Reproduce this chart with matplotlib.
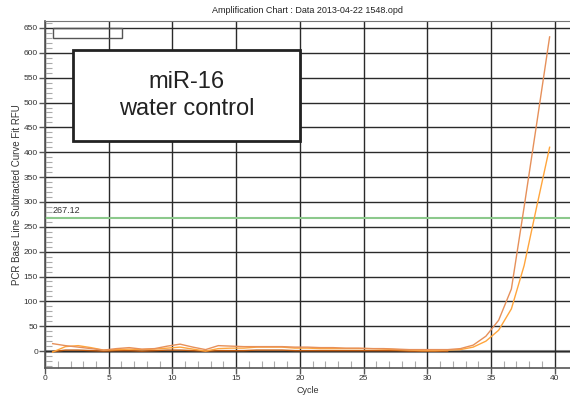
import matplotlib
matplotlib.use("Agg")
import matplotlib.pyplot as plt
from matplotlib.patches import Rectangle
import numpy as np

plt.rcParams['font.family'] = ['Liberation Sans', 'DejaVu Sans']

# cycle positions as drawn by the instrument software
cycles = np.arange(1, 41) - 0.4

# two amplified wells + one flat well (RFU)
well_a = [15, 11, 8, 5, 2, 5, 7, 4, 5, 10,
          14, 8, 3, 11, 10, 9, 9, 9, 9, 8,
          8, 7, 7, 6, 6, 5, 5, 4, 3, 3,
          3, 3, 5, 12, 30, 62, 125, 290, 460, 632]
well_b = [-2, 9, 11, 7, 2, 3, 4, 3, 4, 6,
          8, 4, 0, 5, 6, 6, 8, 8, 8, 6,
          6, 5, 5, 5, 5, 5, 4, 3, 2, 1,
          1, 2, 3, 8, 20, 42, 85, 172, 292, 410]
well_c = [-1, 2, 2, 1, 0, 1, 1, 0, 1, 2,
          2, 1, 0, 1, 1, 1, 2, 2, 2, 1,
          1, 1, 1, 1, 1, 1, 1, 1, 0, 0,
          0, 0]

threshold = 267.12

fig = plt.figure(figsize=(5.7, 4.0), dpi=100)
ax = fig.add_axes([0.079, 0.08, 0.921, 0.8675])

ax.set_xlim(0, 41.2)
ax.set_ylim(-34, 664)

# grid
ax.set_xticks(np.arange(0, 41, 5))
ax.set_yticks(np.arange(0, 651, 50))
ax.set_xticks(np.arange(0, 41, 1), minor=True)
ax.set_yticks(np.arange(-30, 661, 10), minor=True)
ax.grid(True, which='major', color='#2a2a2a', linewidth=1.0)
ax.tick_params(which='major', direction='out', length=4, width=1,
               color='#555555', labelsize=6, labelcolor='#333333', pad=1)
ax.tick_params(which='minor', direction='in', length=5, width=0.8,
               color='#aaaaaa')
ax.axhline(0, color='#999999', linewidth=2.2, zorder=1.5)

for s in ['left', 'bottom']:
    ax.spines[s].set_color('#555555')
    ax.spines[s].set_linewidth(1.2)
ax.spines['top'].set_color('#777777')
ax.spines['right'].set_visible(False)

# curves
ax.plot(cycles[:len(well_c)], well_c, color='#C05A10', linewidth=1.0, zorder=3)
ax.plot(cycles, well_b, color='#FFA53C', linewidth=1.0, zorder=3)
ax.plot(cycles, well_a, color='#E6905A', linewidth=1.0, zorder=3)

# threshold
ax.axhline(threshold, color='#8CC98C', linewidth=1.5, zorder=2)
ax.text(0.6, threshold + 6, f'{threshold:.2f}', fontsize=6.5,
        color='#333333', va='bottom', ha='left')

# empty legend box
ax.add_patch(Rectangle((0.63, 630), 5.42, 20, fill=False,
                       edgecolor='#555555', linewidth=1, zorder=4))

# label box
ax.add_patch(Rectangle((0.053, 0.654), 0.433, 0.262, transform=ax.transAxes,
                       facecolor='white', edgecolor='#222222',
                       linewidth=2, zorder=5))
ax.text(0.2695, 0.785, 'miR-16\nwater control', transform=ax.transAxes,
        ha='center', va='center', fontsize=17, color='#222222',
        linespacing=1.25, zorder=6)

ax.set_title('Amplification Chart : Data 2013-04-22 1548.opd',
             fontsize=6.5, color='#222222', pad=6)
ax.set_xlabel('Cycle', fontsize=6.5, color='#333333', labelpad=3)
ax.set_ylabel('PCR Base Line Subtracted Curve Fit RFU', fontsize=7,
              color='#333333')
ax.yaxis.set_label_coords(-0.043, 0.5)

fig.savefig('out.png', dpi=100)
